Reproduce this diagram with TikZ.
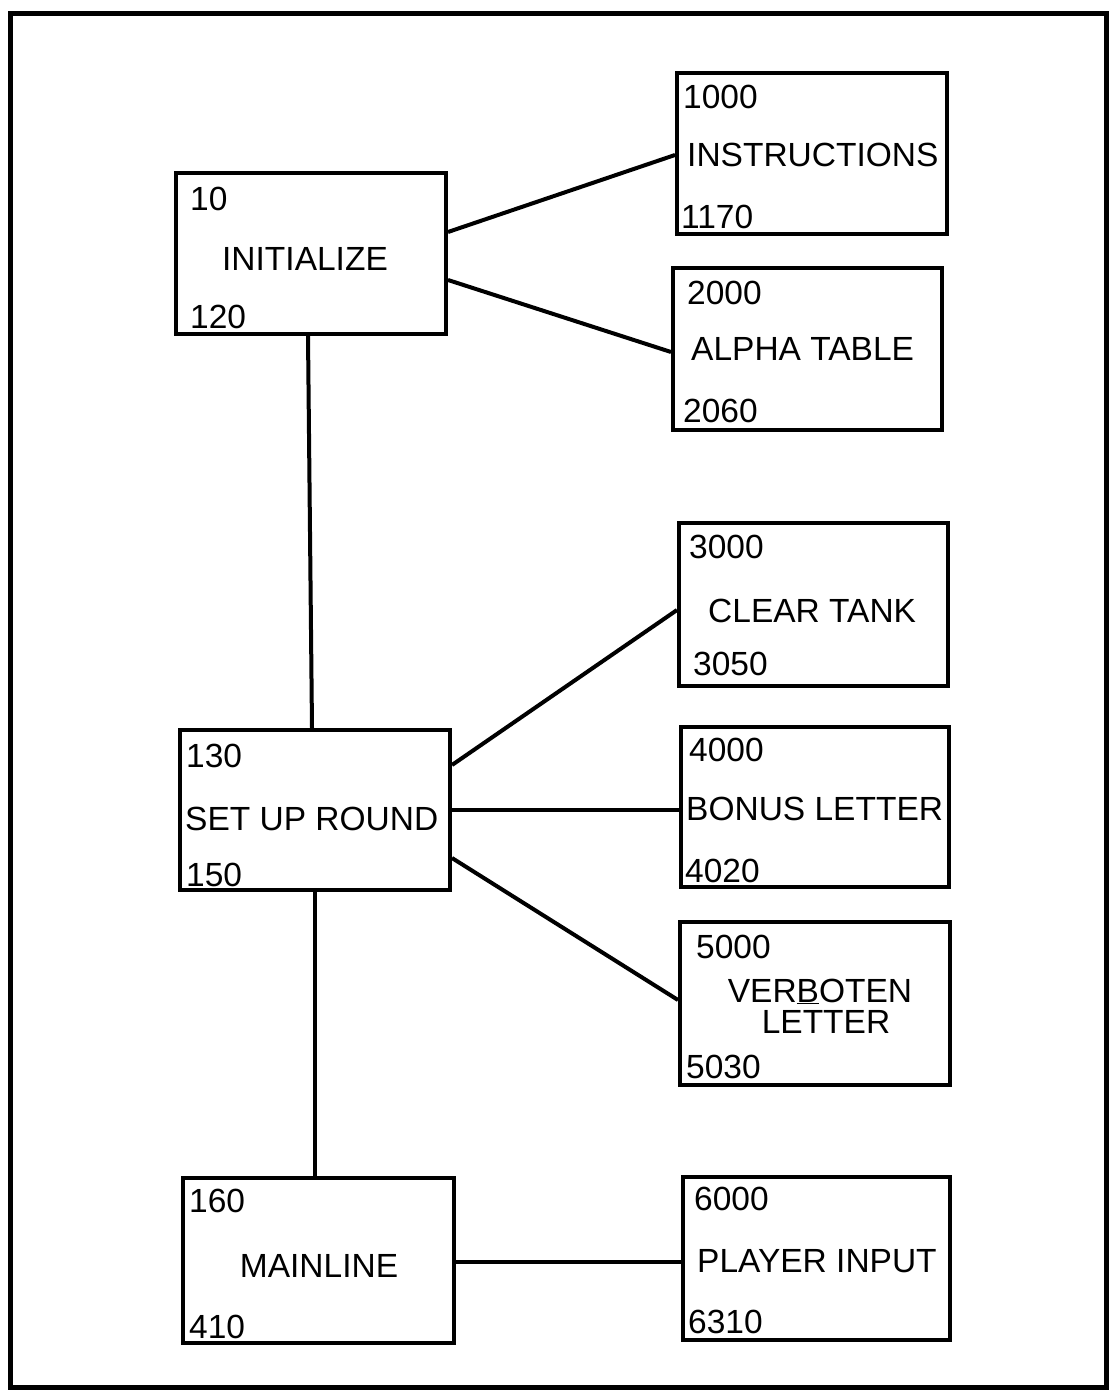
\documentclass[tikz,border=0pt]{standalone}
\usepackage{fontspec}
\setmainfont{Liberation Sans}
\begin{document}
\begin{tikzpicture}[x=1pt,y=-1pt,
  box/.style={draw, line width=4pt, rectangle, inner sep=0pt},
  lbl/.style={anchor=base west, inner sep=0pt, font=\fontsize{33.5}{36}\selectfont},
  clbl/.style={anchor=base, inner sep=0pt, font=\fontsize{33.5}{36}\selectfont},
  conn/.style={line width=4pt}]
\useasboundingbox (0,0) rectangle (1115,1394);
\fill[white] (0,0) rectangle (1115,1394);
\draw[line width=5pt] (10,14) rectangle (1106,1387);
% boxes
\node[box, minimum width=270pt, minimum height=161pt] (init) at (311,253.5) {};
\node[box, minimum width=270pt, minimum height=161pt] (instr) at (812,153.5) {};
\node[box, minimum width=269pt, minimum height=162pt] (alpha) at (807.5,349) {};
\node[box, minimum width=269pt, minimum height=163pt] (clear) at (813.5,604.5) {};
\node[box, minimum width=268pt, minimum height=160pt] (bonus) at (815,807) {};
\node[box, minimum width=270pt, minimum height=163pt] (verb) at (815,1003.5) {};
\node[box, minimum width=270pt, minimum height=160pt] (setup) at (315,810) {};
\node[box, minimum width=271pt, minimum height=165pt] (mainl) at (318.5,1260.5) {};
\node[box, minimum width=267pt, minimum height=163pt] (player) at (816.5,1258.5) {};
% connectors
\draw[conn] ([yshift=21.5pt]init.east) -- ([yshift=-1.5pt]instr.west);
\draw[conn] ([yshift=-26.5pt]init.east) -- ([yshift=-3pt]alpha.west);
\draw[conn] ([xshift=-3pt]init.south) -- ([xshift=-3pt]setup.north);
\draw[conn] ([yshift=45pt]setup.east) -- ([yshift=-5.5pt]clear.west);
\draw[conn] (setup.east) -- ([yshift=-3pt]bonus.west);
\draw[conn] ([yshift=-48pt]setup.east) -- ([yshift=3.5pt]verb.west);
\draw[conn] (setup.south) -- ([xshift=-3.5pt]mainl.north);
\draw[conn] ([yshift=-1.5pt]mainl.east) -- ([yshift=-3.5pt]player.west);
% labels
\node[lbl] (t10) at (190,210) {10};
\node[clbl] (tinit) at (305,270) {INITIALIZE};
\node[lbl] (t120) at (190,328) {120};
\node[lbl] (t1000) at (683,109) {1000};
\node[lbl] (tinstr) at (687,166) {INSTRUCTIONS};
\node[lbl] (t1170) at (681,228) {1170};
\node[lbl] (t2000) at (687,304) {2000};
\node[lbl] (talpha) at (691,360) {ALPHA TABLE};
\node[lbl] (t2060) at (683,422) {2060};
\node[lbl] (t3000) at (689,558) {3000};
\node[lbl] (tclear) at (708,622) {CLEAR TANK};
\node[lbl] (t3050) at (693,675) {3050};
\node[lbl] (t4000) at (689,761) {4000};
\node[lbl] (tbonus) at (686,820) {BONUS LETTER};
\node[lbl] (t4020) at (685,882) {4020};
\node[lbl] (t5000) at (696,958) {5000};
\node[clbl, align=center, font=\fontsize{33.5}{31}\selectfont] (tverb) at (820,1033)
  {VER\underline{B}OTEN\\\hspace*{12pt}LETTER};
\node[lbl] (t5030) at (686,1078) {5030};
\node[lbl] (t130) at (186,767) {130};
\node[lbl] (tsetup) at (185,830) {SET UP ROUND};
\node[lbl] (t150) at (186,886) {150};
\node[lbl] (t160) at (189,1212) {160};
\node[clbl] (tmain) at (319,1277) {MAINLINE};
\node[lbl] (t410) at (189,1338) {410};
\node[lbl] (t6000) at (694,1210) {6000};
\node[lbl] (tplayer) at (697,1272) {PLAYER INPUT};
\node[lbl] (t6310) at (688,1333) {6310};
\end{tikzpicture}
\end{document}
